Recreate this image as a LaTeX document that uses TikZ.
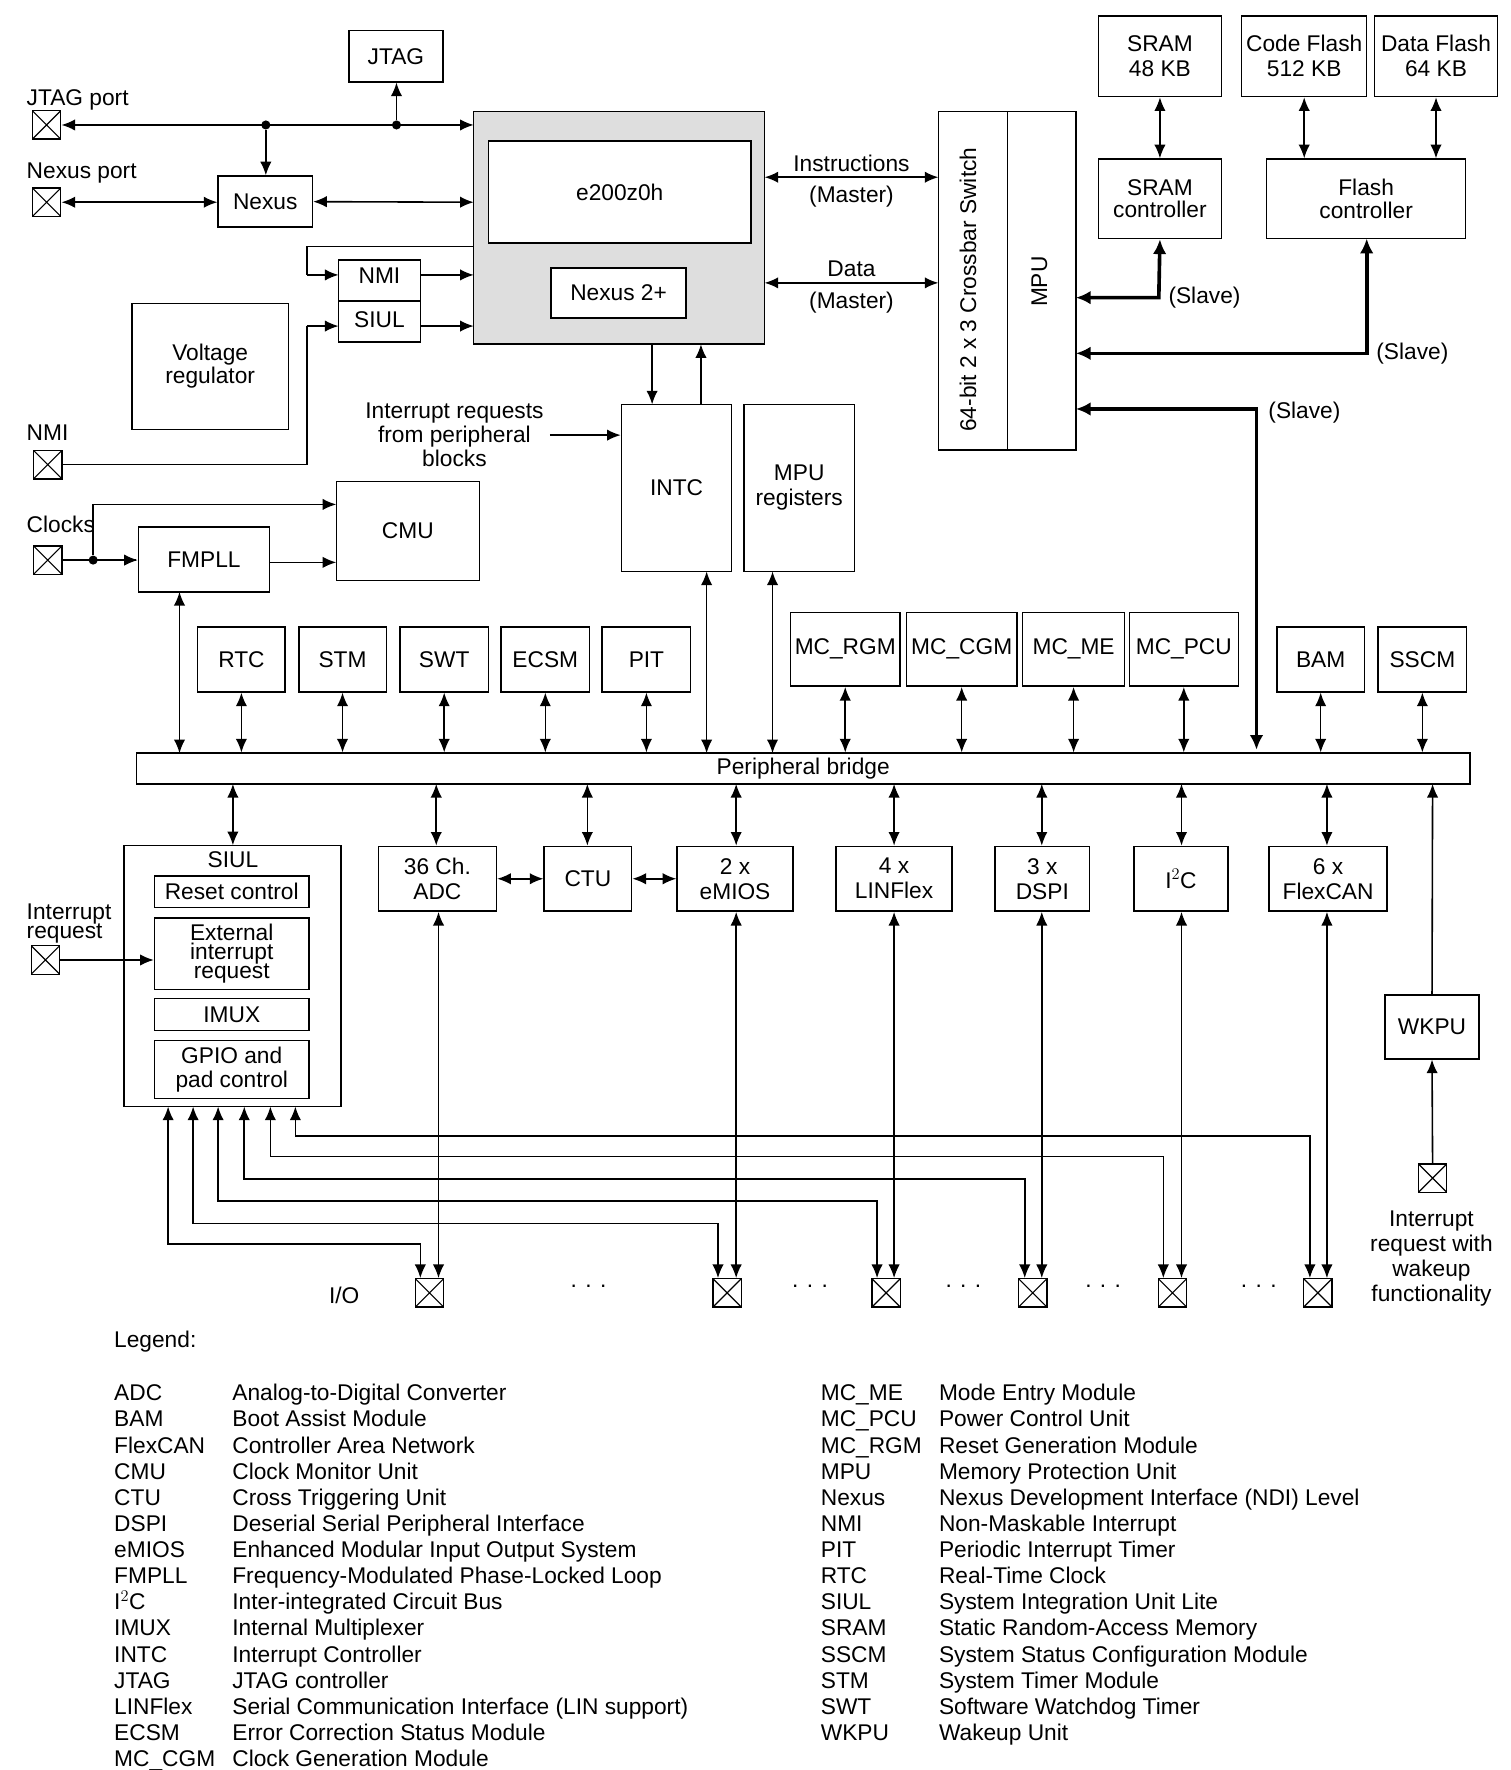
\documentclass[tikz,border=0pt]{standalone}
\usepackage{fontspec}
\setmainfont{Liberation Sans}
\usetikzlibrary{arrows.meta}
\newcommand\bx[7][]{\node[box,#1,minimum width={(#5-#3)*1pt},minimum height={(#6-#4)*1pt}] (#2) at ({(#3+#5)/2},{(#4+#6)/2}) {#7};}
\begin{document}
\begin{tikzpicture}[x=1pt,y=-1pt,font=\fontsize{20}{22}\selectfont,
 box/.style={draw,line width=1.3pt,align=center,inner sep=0pt},
 pin/.style={draw,line width=1.2pt,minimum size=25pt,inner sep=0pt,path picture={\draw[line width=1pt](path picture bounding box.south west)--(path picture bounding box.north east)(path picture bounding box.north west)--(path picture bounding box.south east);}},
 ln/.style={line width=1.4pt},
 a/.style={ln,-{Latex[length=12pt,width=10pt]}},
 ab/.style={ln,{Latex[length=12pt,width=10pt]}-{Latex[length=12pt,width=10pt]}},
 tk/.style={line width=3.2pt},
 dot/.style={circle,fill,inner sep=0pt,minimum size=8pt}]
\useasboundingbox (0,0) rectangle (1330,1558);
% top section
\bx{jtag}{307}{27}{390}{72}{JTAG}
\bx[fill=black!13]{e200}{417}{98}{673}{303}{}
\bx[fill=white]{core}{430}{124}{661}{214}{e200z0h}
\bx[fill=white]{nex2}{485}{236}{604}{280}{Nexus 2+}
\bx{nexus}{192}{155}{275}{200}{Nexus}
\bx{nmisiul}{298}{229}{370}{301}{}
\draw[ln] (298,265)--(370,265);
\node at (334,243) {NMI}; \node at (334,281) {SIUL};
\bx{vreg}{116}{267}{254}{378}{Voltage\\[-2pt]regulator}
\bx{cmu}{296}{424}{422}{511}{CMU}
\bx{fmpll}{122}{464}{237}{521}{FMPLL}
\bx{intc}{547}{356}{644}{503}{INTC}
\bx{mpur}{655}{356}{752}{503}{MPU\\registers}
\bx{xbar}{826}{98}{887}{396}{}
\bx{mpu}{887}{98}{947}{396}{}
\node[rotate=90] at (852,255) {64-bit 2 x 3 Crossbar Switch};
\node[rotate=90] at (915,248) {MPU};
\bx{sram}{967}{14}{1075}{85}{SRAM\\48 KB}
\bx{sramc}{967}{140}{1075}{210}{SRAM\\[-2pt]controller}
\bx{cflash}{1093}{14}{1203}{85}{Code Flash\\512 KB}
\bx{dflash}{1210}{14}{1318}{85}{Data Flash\\64 KB}
\bx{flashc}{1115}{140}{1290}{210}{Flash\\[-2pt]controller}
% pins
\node[pin] (pjtag) at (41,110) {}; \node[anchor=west] at (20,88) {JTAG port};
\node[pin] (pnex) at (41,178) {}; \node[anchor=west] at (20,152) {Nexus port};
\node[pin] (pnmi) at (42,409) {}; \node[anchor=west] at (20,381) {NMI};
\node[pin] (pclk) at (42,493) {}; \node[anchor=west] at (20,462) {Clocks};
\node[pin] (pint) at (40,845) {}; \node[anchor=west,align=left] at (20,813) {Interrupt\\[-5pt]request};
% top connectors
\draw[ab] (pjtag.east) -- (417,110);
\node[dot] (d1) at (234,110) {}; \node[dot] (d2) at (349,110) {};
\draw[a] (d1) -- (nexus.north-|d1);
\draw[a] (d2) -- (jtag.south-|d2);
\draw[ab] (pnex.east) -- (nexus.west|-pnex);
\draw[ab] (nexus.east) -- (417,178);
\draw[ln] (417,217) -- (270,217) -- (270,242); \draw[a] (270,242) -- (298,242);
\draw[a] (370,242) -- (417,242);
\draw[a] (370,287) -- (417,287);
\draw[ln] (pnmi.east) -- (270,409) -- (270,287); \draw[a] (270,287)--(298,287);
\draw[a] (574,303) -- (574,356);
\draw[a] (617,356) -- (617,303);
\node[align=center] (irq) at (400,383) {Interrupt requests\\[-1pt]from peripheral\\[-1pt]blocks};
\draw[a] (484,383) -- (intc.west|-484,383);
\draw[ab] (673,156) -- (826,156) node[midway,above=1pt] {Instructions} node[midway,below=4pt] {(Master)};
\draw[ab] (673,249) -- (826,249) node[midway,above=1pt] {Data} node[midway,below=4pt] {(Master)};
\draw[ab] (sram.south) -- (sramc.north);
\draw[ab] (cflash.south) -- (cflash.south|-flashc.north);
\draw[ab] (dflash.south) -- (dflash.south|-flashc.north);
\draw[tk,{Latex[length=13pt,width=12pt]}-{Latex[length=13pt,width=12pt]}] (sramc.south) -- (1020,262) -- (947,262);
\node[anchor=west] at (1025,262) {(Slave)};
\draw[tk,{Latex[length=13pt,width=12pt]}-{Latex[length=13pt,width=12pt]}] (1203,210) -- (1203,311) -- (947,311);
\node[anchor=west] at (1208,311) {(Slave)};
\bx{bridge}{120}{663}{1294}{690}{Peripheral bridge}
\draw[tk,{Latex[length=13pt,width=12pt]}-{Latex[length=13pt,width=12pt]}] (947,360) -- (1106,360) -- (1106,660);
\node[anchor=west] at (1113,363) {(Slave)};
\draw[ln] (pclk.east) -- (120,493);
\draw[a] (pclk.east) -- (fmpll.west|-pclk);
\node[dot] (d3) at (82,493) {};
\draw[ln] (d3) -- (82,444); \draw[a] (82,444) -- (296,444);
\draw[a] (237,495) -- (296,495);
\draw[ab] (158,521) -- (158,663);
% top peripherals
\bx{rtc}{174}{552}{251}{609}{RTC}
\bx{stm}{263}{552}{340}{609}{STM}
\bx{swt}{352}{552}{430}{609}{SWT}
\bx{ecsm}{441}{552}{519}{609}{ECSM}
\bx{pit}{530}{552}{608}{609}{PIT}
\bx{rgm}{696}{539}{792}{604}{MC\_RGM}
\bx{cgm}{798}{539}{895}{604}{MC\_CGM}
\bx{me}{900}{539}{990}{604}{MC\_ME}
\bx{pcu}{994}{539}{1090}{604}{MC\_PCU}
\bx{bam}{1124}{552}{1201}{609}{BAM}
\bx{sscm}{1213}{552}{1291}{609}{SSCM}
\foreach \n in {rtc,stm,swt,ecsm,pit,rgm,cgm,me,pcu,bam,sscm} \draw[ab] (\n.south) -- (\n.south|-bridge.north);
\draw[ab] (622,503) -- (622,663);
\draw[ab] (680,503) -- (680,663);
% bottom
\bx{siul}{109}{744}{300}{974}{}
\node at (205,757) {SIUL};
\bx{rst}{136}{771}{272}{799}{Reset control}
\bx{ext}{136}{808}{272}{871}{External\\[-5pt]interrupt\\[-5pt]request}
\bx{imux}{136}{879}{272}{907}{IMUX}
\bx{gpio}{136}{916}{272}{967}{GPIO and\\[-1pt]pad control}
\bx{adc}{333}{745}{437}{802}{36 Ch.\\ADC}
\bx{ctu}{479}{745}{556}{802}{CTU}
\bx{emios}{596}{745}{698}{802}{2 x\\eMIOS}
\bx{lin}{736}{745}{838}{802}{4 x\\LINFlex}
\bx{dspi}{876}{745}{959}{802}{3 x\\DSPI}
\bx{iic}{998}{745}{1081}{802}{I$^2$C}
\bx{can}{1117}{745}{1221}{802}{6 x\\FlexCAN}
\bx{wkpu}{1219}{876}{1302}{932}{WKPU}
\draw[ab] (205,690) -- (205,744);
\draw[ab] (384,690) -- (adc.north-|384,0);
\foreach \n/\x in {ctu/517,emios/648,lin/787,dspi/917,iic/1040,can/1168} \draw[ab] (\x,690) -- (\n.north-|\x,0);
\draw[ab] (adc.east) -- (ctu.west);
\draw[ab] (ctu.east) -- (emios.west);
\draw[a] (wkpu.north) -- (1261,690);
\node[pin] (pwk) at (1261,1037) {};
\draw[a] (pwk.north) -- (wkpu.south);
\node[align=center] at (1260,1108) {Interrupt\\[0pt]request with\\[0pt]wakeup\\[0pt]functionality};
\draw[a] (pint.east) -- (ext.west|-pint);
% I/O pins
\node[pin] (io1) at (378,1138) {};
\node[pin] (io2) at (640,1138) {};
\node[pin] (io3) at (780,1138) {};
\node[pin] (io4) at (909,1138) {};
\node[pin] (io5) at (1032,1138) {};
\node[pin] (io6) at (1160,1138) {};
\node at (303,1140) {I/O};
\foreach \x in {518,713,848,971,1108} \node at (\x,1132) {. . .};
\draw[ab] (adc.south-|386,0) -- (386,1125);
\draw[ab] (emios.south-|648,0) -- (648,1125);
\draw[ab] (lin.south-|787,0) -- (787,1125);
\draw[ab] (dspi.south-|917,0) -- (917,1125);
\draw[ab] (iic.south-|1040,0) -- (1040,1125);
\draw[ab] (can.south-|1168,0) -- (1168,1125);
\draw[ab] (148,974) -- (148,1095) -- (370,1095) -- (370,1125);
\draw[ab] (170,974) -- (170,1077) -- (632,1077) -- (632,1125);
\draw[ab] (192,974) -- (192,1057) -- (772,1057) -- (772,1125);
\draw[ab] (215,974) -- (215,1038) -- (902,1038) -- (902,1125);
\draw[ab] (238,974) -- (238,1018) -- (1024,1018) -- (1024,1125);
\draw[ab] (260,974) -- (260,1000) -- (1153,1000) -- (1153,1125);
% legend
\node[anchor=west] at (97,1181) {Legend:};
\foreach \a/\b [count=\i from 0] in {ADC/Analog-to-Digital Converter,BAM/Boot Assist Module,FlexCAN/Controller Area Network,CMU/Clock Monitor Unit,CTU/Cross Triggering Unit,DSPI/Deserial Serial Peripheral Interface,eMIOS/Enhanced Modular Input Output System,FMPLL/Frequency-Modulated Phase-Locked Loop,I$^2$C/Inter-integrated Circuit Bus,IMUX/Internal Multiplexer,INTC/Interrupt Controller,JTAG/JTAG controller,LINFlex/Serial Communication Interface (LIN support),ECSM/Error Correction Status Module,MC\_CGM/Clock Generation Module}
 {\node[anchor=base west] at (97,1233+23*\i) {\a}; \node[anchor=base west] at (201,1233+23*\i) {\b};}
\foreach \a/\b [count=\i from 0] in {MC\_ME/Mode Entry Module,MC\_PCU/Power Control Unit,MC\_RGM/Reset Generation Module,MPU/Memory Protection Unit,Nexus/Nexus Development Interface (NDI) Level,NMI/Non-Maskable Interrupt,PIT/Periodic Interrupt Timer,RTC/Real-Time Clock,SIUL/System Integration Unit Lite,SRAM/Static Random-Access Memory,SSCM/System Status Configuration Module,STM/System Timer Module,SWT/Software Watchdog Timer,WKPU/Wakeup Unit}
 {\node[anchor=base west] at (719,1233+23*\i) {\a}; \node[anchor=base west] at (823,1233+23*\i) {\b};}
\end{tikzpicture}
\end{document}
